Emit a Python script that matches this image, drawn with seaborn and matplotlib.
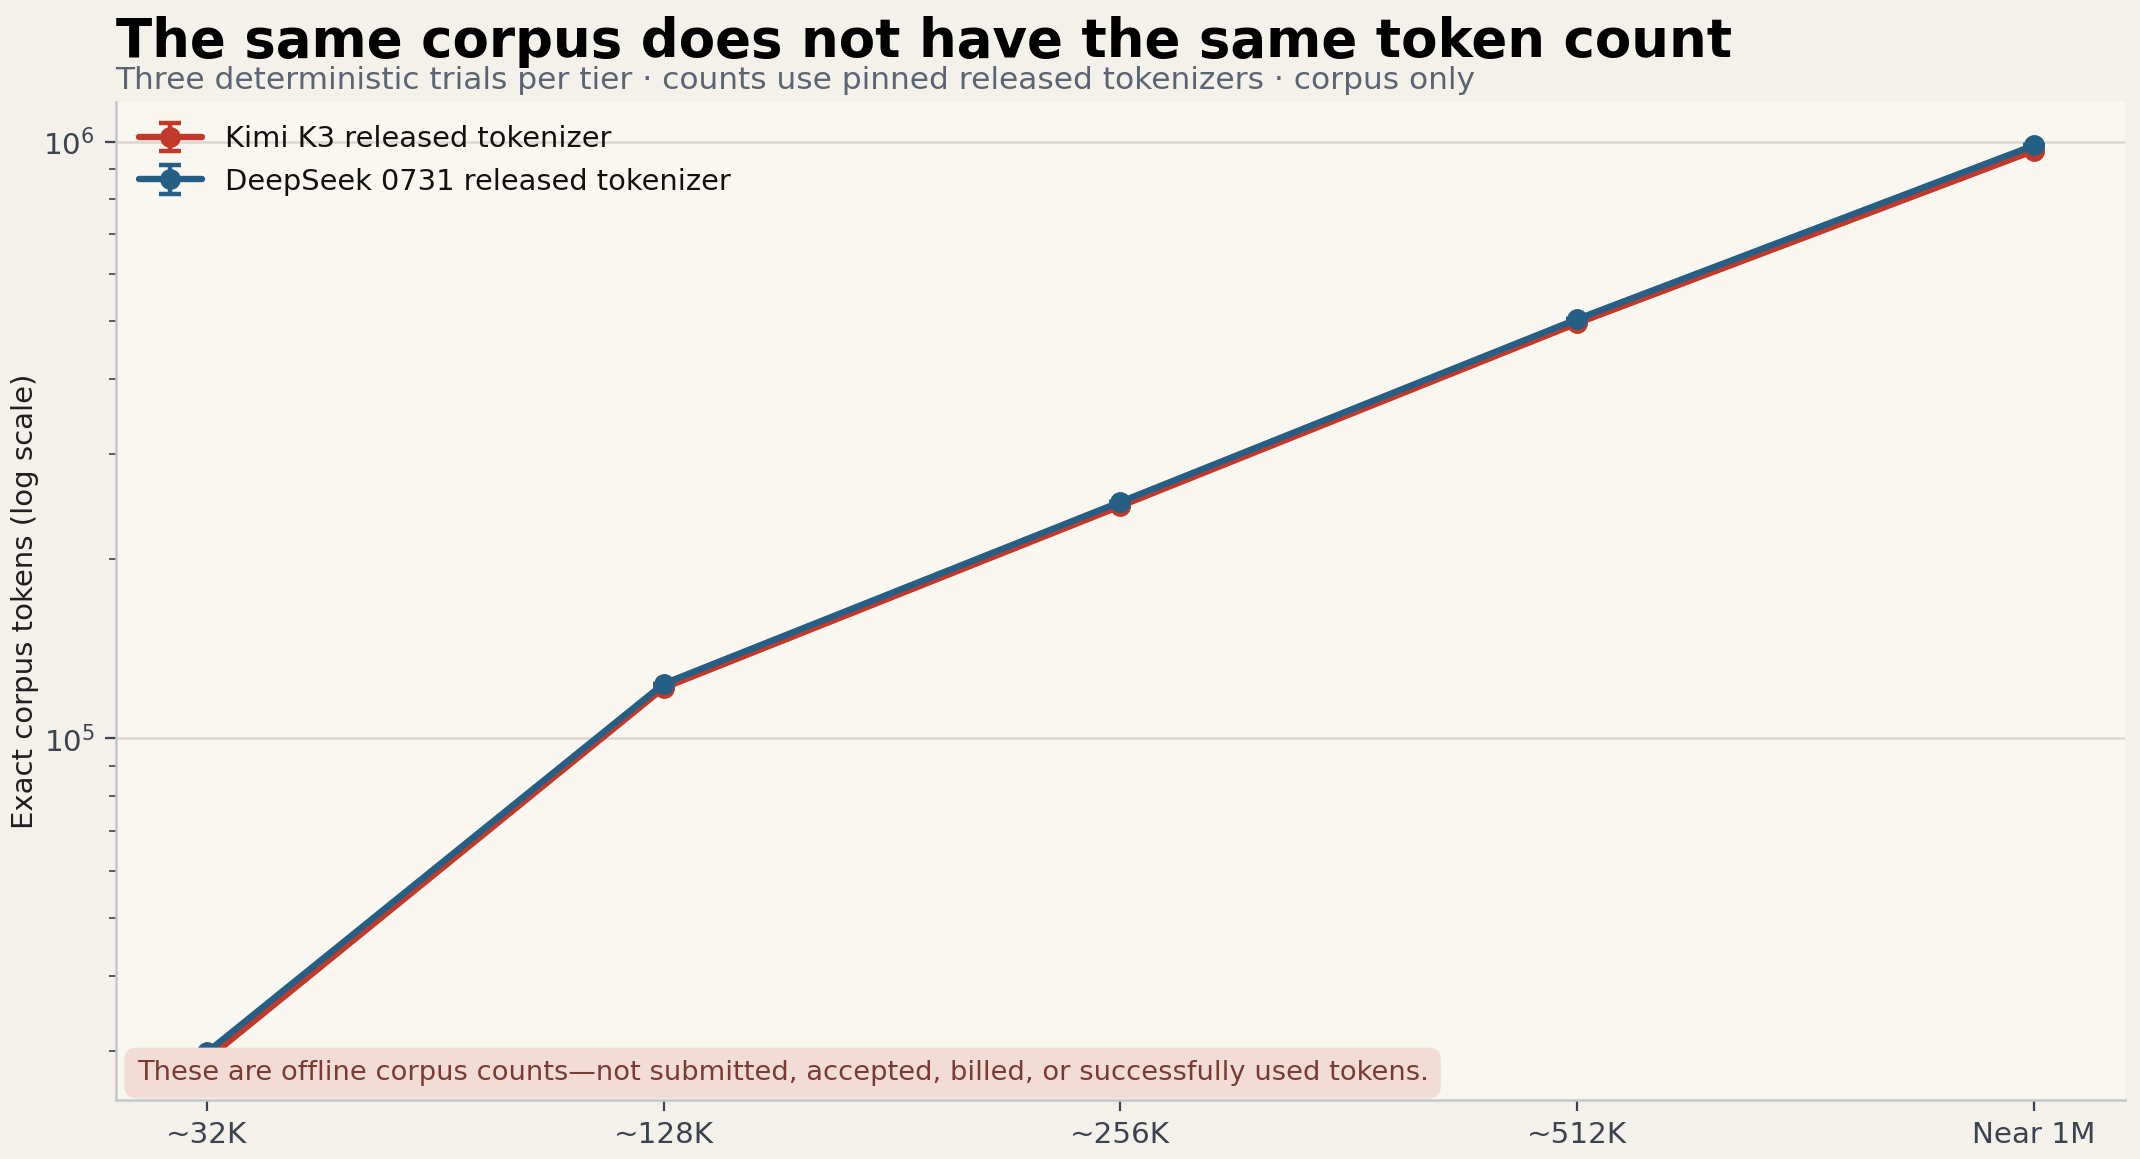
import numpy as np
import pandas as pd
import seaborn as sns
import matplotlib.pyplot as plt
from matplotlib.ticker import LogLocator, NullFormatter

# tiers and exact corpus token counts
tiers = ["~32K", "~128K", "~256K", "~512K", "Near 1M"]
kimi_tokens = [29000, 121500, 245000, 496000, 965000]
deepseek_tokens = [29800, 123500, 249000, 504000, 985000]
# three deterministic trials -> no spread
kimi_err = [0, 0, 0, 0, 0]
deepseek_err = [0, 0, 0, 0, 0]

series_names = ["Kimi K3 released tokenizer", "DeepSeek 0731 released tokenizer"]
colors = ["#c0392b", "#255f85"]

df = pd.DataFrame({
    "tier": tiers * 2,
    "tokens": kimi_tokens + deepseek_tokens,
    "err": kimi_err + deepseek_err,
    "series": [series_names[0]] * 5 + [series_names[1]] * 5,
})
df["x"] = df.groupby("series").cumcount()

sns.set_theme(style="whitegrid")
plt.rcParams["font.family"] = ["DejaVu Sans"]

fig = plt.figure(figsize=(10.7, 5.795), dpi=200, facecolor="#f4f0ea")
ax = fig.add_axes([0.054, 0.051, 0.939, 0.861])
ax.set_facecolor("#faf7f1")

for name, col in zip(series_names, colors):
    d = df[df["series"] == name]
    ax.errorbar(d["x"], d["tokens"], yerr=d["err"], color=col, lw=2.3,
                marker="o", ms=6.5, capsize=4, capthick=1.6, elinewidth=1.6,
                label=name, zorder=3)

ax.set_yscale("log")
ax.set_ylim(24800, 1165000)
ax.set_xlim(-0.2, 4.2)
ax.set_xticks(range(len(tiers)))
ax.set_xticklabels(tiers)
ax.yaxis.set_minor_locator(LogLocator(base=10, subs=np.arange(2, 10)))
ax.yaxis.set_minor_formatter(NullFormatter())

ax.grid(False)
ax.grid(axis="y", which="major", color="#dcd7cf", lw=0.9)
for s in ["top", "right"]:
    ax.spines[s].set_visible(False)
for s in ["left", "bottom"]:
    ax.spines[s].set_color("#c3c6cc")
    ax.spines[s].set_linewidth(0.9)

ax.tick_params(axis="both", which="major", labelsize=10.6, colors="#3b4350",
               length=4, width=0.8, left=True, bottom=True)
ax.tick_params(axis="y", which="minor", length=2.5, width=0.6, colors="#3b4350", left=True)
ax.set_ylabel("Exact corpus tokens (log scale)", fontsize=10.5, color="#1f1f1f", labelpad=1.5)

leg = ax.legend(loc="upper left", frameon=False, fontsize=10.4,
                handlelength=2.2, borderaxespad=0.4)
for t in leg.get_texts():
    t.set_color("#111111")

fig.text(0.054, 0.951, "The same corpus does not have the same token count",
         fontsize=19.1, fontweight="bold", color="#000000", va="baseline")
fig.text(0.054, 0.923,
         "Three deterministic trials per tier \u00b7 counts use pinned released tokenizers \u00b7 corpus only",
         fontsize=11.25, color="#5b6472", va="baseline")

ax.text(0.0105, 0.027,
        "These are offline corpus counts\u2014not submitted, accepted, billed, or successfully used tokens.",
        transform=ax.transAxes, fontsize=9.85, color="#7a3b33", va="center", ha="left",
        bbox=dict(boxstyle="round,pad=0.45", facecolor="#f2ddd6", edgecolor="none"),
        zorder=5)

fig.savefig("out.png", dpi=200, facecolor=fig.get_facecolor())
